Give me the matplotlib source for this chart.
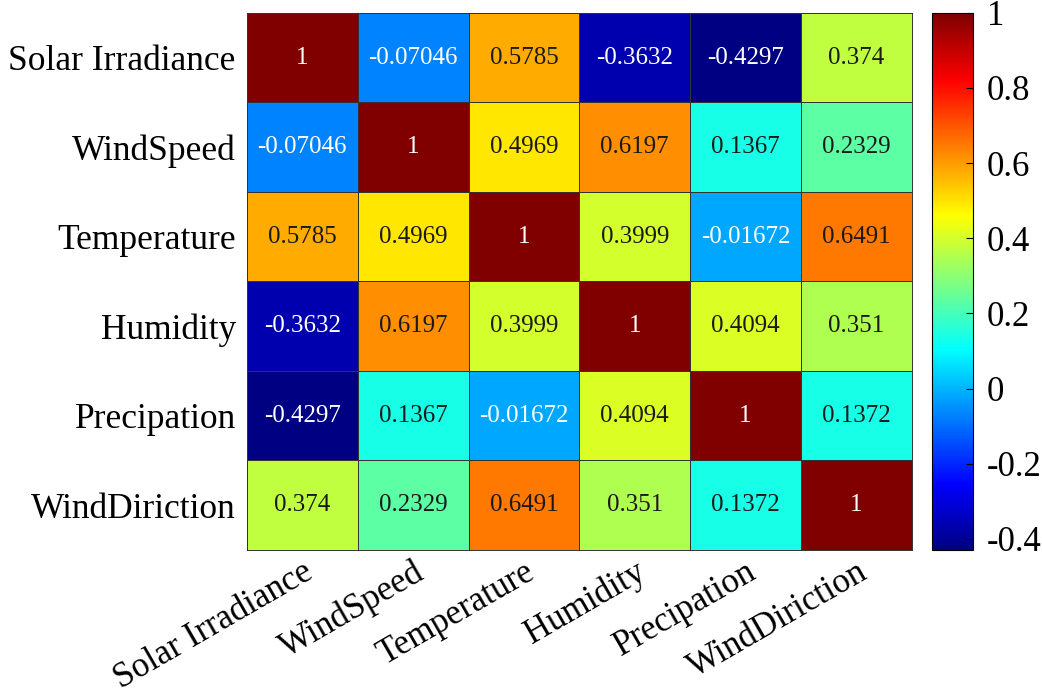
import numpy as np
import matplotlib.pyplot as plt
from matplotlib.colors import Normalize, ListedColormap

plt.rcParams["font.family"] = ["Liberation Serif", "DejaVu Serif"]

labels = ["Solar Irradiance", "WindSpeed", "Temperature",
          "Humidity", "Precipation", "WindDiriction"]

corr = np.array([
    [1, -0.07046, 0.5785, -0.3632, -0.4297, 0.374],
    [-0.07046, 1, 0.4969, 0.6197, 0.1367, 0.2329],
    [0.5785, 0.4969, 1, 0.3999, -0.01672, 0.6491],
    [-0.3632, 0.6197, 0.3999, 1, 0.4094, 0.351],
    [-0.4297, 0.1367, -0.01672, 0.4094, 1, 0.1372],
    [0.374, 0.2329, 0.6491, 0.351, 0.1372, 1],
])

cbar_ticks = [-0.4, -0.2, 0, 0.2, 0.4, 0.6, 0.8, 1]


def matlab_jet(m=256):
    # same construction as MATLAB's jet(m)
    n = int(np.ceil(m / 4))
    u = np.concatenate([np.arange(1, n + 1) / n, np.ones(n - 1),
                        np.arange(n, 0, -1) / n])
    g = int(np.ceil(n / 2)) - (1 if m % 4 == 1 else 0) + np.arange(1, len(u) + 1)
    r = g + n
    b = g - n
    J = np.zeros((m, 3))
    J[r[r <= m] - 1, 0] = u[r <= m]
    J[g[g <= m] - 1, 1] = u[g <= m]
    J[b[b >= 1] - 1, 2] = u[b >= 1]
    return ListedColormap(J)


def cell_text(v):
    if v == 1:
        return "1"
    return f"{v:.4g}"


fig = plt.figure(figsize=(10.42, 6.94), dpi=100)
ax = fig.add_axes([0.237, 0.2075, 0.638, 0.774])
cax = fig.add_axes([0.8945, 0.2075, 0.039, 0.774])

norm = Normalize(vmin=corr.min(), vmax=corr.max())
cmap = matlab_jet()
n = len(labels)
mesh = ax.pcolormesh(np.arange(n + 1), np.arange(n + 1), corr, cmap=cmap,
                     norm=norm, edgecolors="#333333", linewidth=0.7)
ax.set_xlim(0, n)
ax.set_ylim(n, 0)

for i in range(n):
    for j in range(n):
        v = corr[i, j]
        r, g, b, _ = cmap(norm(v))
        lum = 0.299 * r + 0.587 * g + 0.114 * b
        color = "white" if lum < 0.5 else "#1a1a1a"
        ax.text(j + 0.5, i + 0.5, cell_text(v), ha="center", va="center",
                fontsize=18, color=color)

ax.set_xticks(np.arange(n) + 0.5)
ax.set_yticks(np.arange(n) + 0.5)
ax.set_xticklabels(labels, rotation=30, ha="right", rotation_mode="anchor",
                   fontsize=25)
ax.set_yticklabels(labels, fontsize=25.5)
ax.tick_params(axis="y", length=0, pad=8)
ax.tick_params(axis="x", length=0, pad=4)
for s in ax.spines.values():
    s.set_color("#333333")
    s.set_linewidth(0.7)

cb = fig.colorbar(mesh, cax=cax, ticks=cbar_ticks)
cb.ax.set_yticklabels([f"{t:g}" for t in cbar_ticks])
cb.ax.tick_params(labelsize=25, direction="in", length=5, width=0.8, pad=10)
cb.outline.set_linewidth(0.8)

fig.savefig("out.png", dpi=100)
